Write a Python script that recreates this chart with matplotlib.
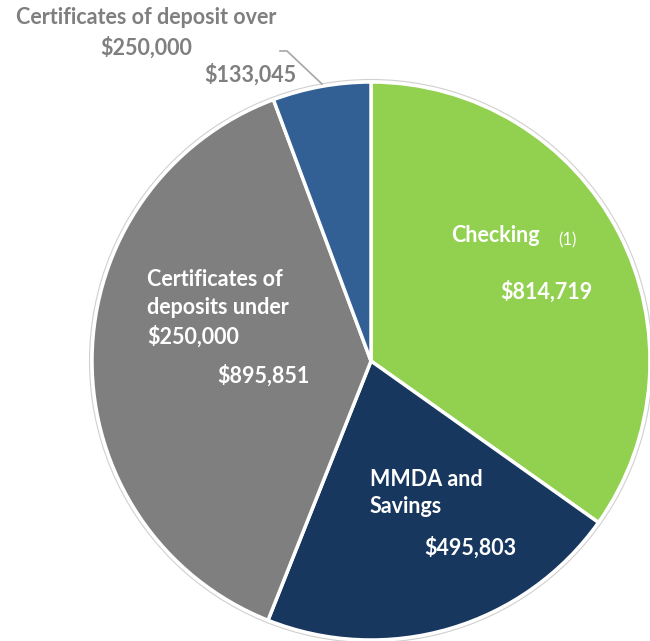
import matplotlib.pyplot as plt
from matplotlib.patches import Circle

# Deposit mix, clockwise from 12 o'clock
categories = ["Checking", "MMDA and\nSavings", "Certificates of\ndeposits under\n$250,000",
              "Certificates of deposit over\n$250,000"]
values = [814719, 495803, 895851, 133045]
colors = ["#92D050", "#17375E", "#7F7F7F", "#336094"]

W, H = 650, 641
fig = plt.figure(figsize=(W / 100, H / 100), dpi=100)
ax = fig.add_axes([0, 0, 1, 1])

cx, cy, r = 371, 361, 279
# axes use pixel coords with y pointing down, so -90 is 12 o'clock
# and counterclock=True runs clockwise on screen
ax.pie(values, colors=colors, startangle=-90, counterclock=True,
       center=(cx, cy), radius=r, frame=True,
       wedgeprops=dict(edgecolor="white", linewidth=2.5))
ax.set_xlim(0, W)
ax.set_ylim(H, 0)
ax.set_aspect("equal")
ax.axis("off")
ax.add_patch(Circle((cx, cy), r + 2.5, fill=False, edgecolor="#D0D0D0", linewidth=0.8))

fam = ["Lato", "DejaVu Sans"]
font = dict(family=fam, fontweight="bold", fontsize=15.5)

def money(v):
    return "${:,}".format(v)

# labels inside the slices
ax.text(451, 235, "Checking", color="white", ha="left", va="center", **font)
ax.text(558, 240, "(1)", color="white", ha="left", va="center", family=fam, fontsize=12)
ax.text(500, 292, money(values[0]), color="white", ha="left", va="center", **font)

ax.text(370, 493, categories[1], color="white", ha="left", va="center",
        linespacing=1.4, **font)
ax.text(424, 548, money(values[1]), color="white", ha="left", va="center", **font)

ax.text(147, 308, categories[2], color="white", ha="left", va="center",
        linespacing=1.4, **font)
ax.text(217, 376, money(values[2]), color="white", ha="left", va="center", **font)

# small slice labelled outside with a leader line
ax.text(146, 33, categories[3], color="#7F7F7F", ha="center", va="center",
        linespacing=1.45, **font)
ax.text(296, 75, money(values[3]), color="#7F7F7F", ha="right", va="center", **font)
ax.plot([280, 287, 322], [51, 51, 84], color="#A6A6A6", linewidth=1.2)

fig.savefig("out.png", dpi=100)
